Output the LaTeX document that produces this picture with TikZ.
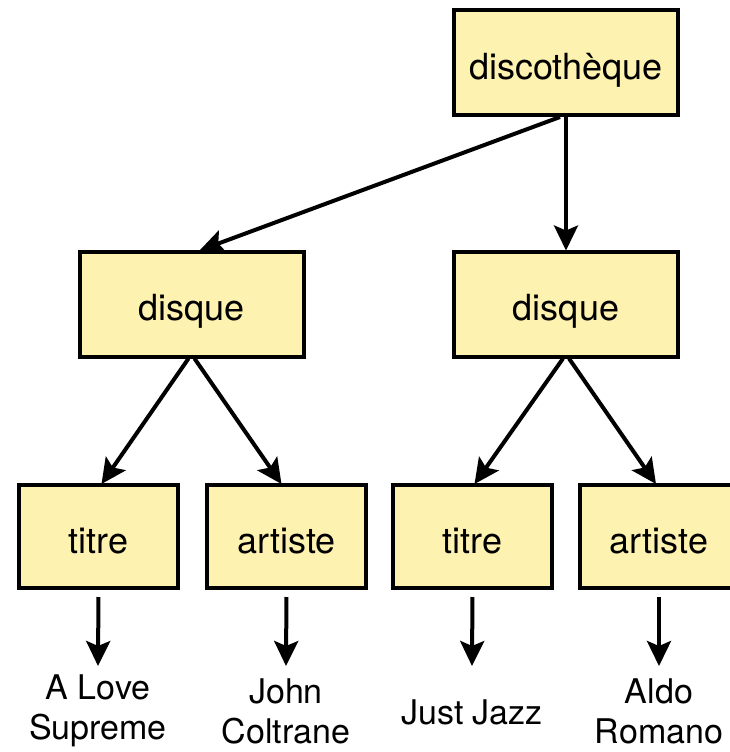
\documentclass[tikz,border=0pt]{standalone}
\usepackage{fontspec}
\setmainfont{TeX Gyre Heros}
\usetikzlibrary{arrows.meta}
\definecolor{boxfill}{RGB}{254,242,176}
\begin{document}
\begin{tikzpicture}[x=1pt,y=-1pt,
  box/.style={draw=black,line width=4pt,fill=boxfill,inner sep=0pt,
    text height=33pt,text depth=0pt,
    font=\fontsize{36}{42}\selectfont},
  big/.style={box,minimum width=224pt,minimum height=105pt},
  small/.style={box,minimum width=159pt,minimum height=103pt},
  lbl/.style={align=center,inner sep=0pt,font=\fontsize{34}{40}\selectfont},
  arr/.style={line width=4pt,-{Stealth[length=25pt,width=24pt,inset=5pt]}}]
\useasboundingbox (0,0) rectangle (729,752);
\node[big] (d0) at (566,62.5) {discothèque};
\node[big] (d1) at (191.5,304) {disque};
\node[big] (d2) at (566,304) {disque};
\node[small] (t1) at (98.5,536.5) {titre};
\node[small] (a1) at (286.5,536.5) {artiste};
\node[small] (t2) at (472.5,536.5) {titre};
\node[small] (a2) at (659,536.5) {artiste};
\node[lbl] (l1) at (98,711) {A Love\\Supreme};
\node[lbl] (l2) at (286,711) {John\\Coltrane};
\node[lbl] (l3) at (472,712) {Just Jazz};
\node[lbl] (l4) at (659,711) {Aldo\\Romano};
\coordinate (e1) at (98,666);
\coordinate (e2) at (286,666);
\coordinate (e3) at (472,666);
\coordinate (e4) at (659,666);
\draw[arr] ([xshift=-6pt]d0.south) -- ([xshift=8pt,yshift=-1pt]d1.north);
\draw[arr] (d0.south) -- ([yshift=-1pt]d2.north);
\draw[arr] ([xshift=-3pt]d1.south) -- ([xshift=3pt,yshift=-1pt]t1.north);
\draw[arr] ([xshift=3pt]d1.south) -- ([xshift=-5pt,yshift=-1pt]a1.north);
\draw[arr] ([xshift=-3pt]d2.south) -- ([xshift=2pt,yshift=-1pt]t2.north);
\draw[arr] ([xshift=3pt]d2.south) -- ([xshift=-3pt,yshift=-1pt]a2.north);
\draw[arr,shorten <=7pt] (t1.south) -- (e1);
\draw[arr,shorten <=7pt] (a1.south) -- (e2);
\draw[arr,shorten <=7pt] (t2.south) -- (e3);
\draw[arr,shorten <=7pt] (a2.south) -- (e4);
\end{tikzpicture}
\end{document}
